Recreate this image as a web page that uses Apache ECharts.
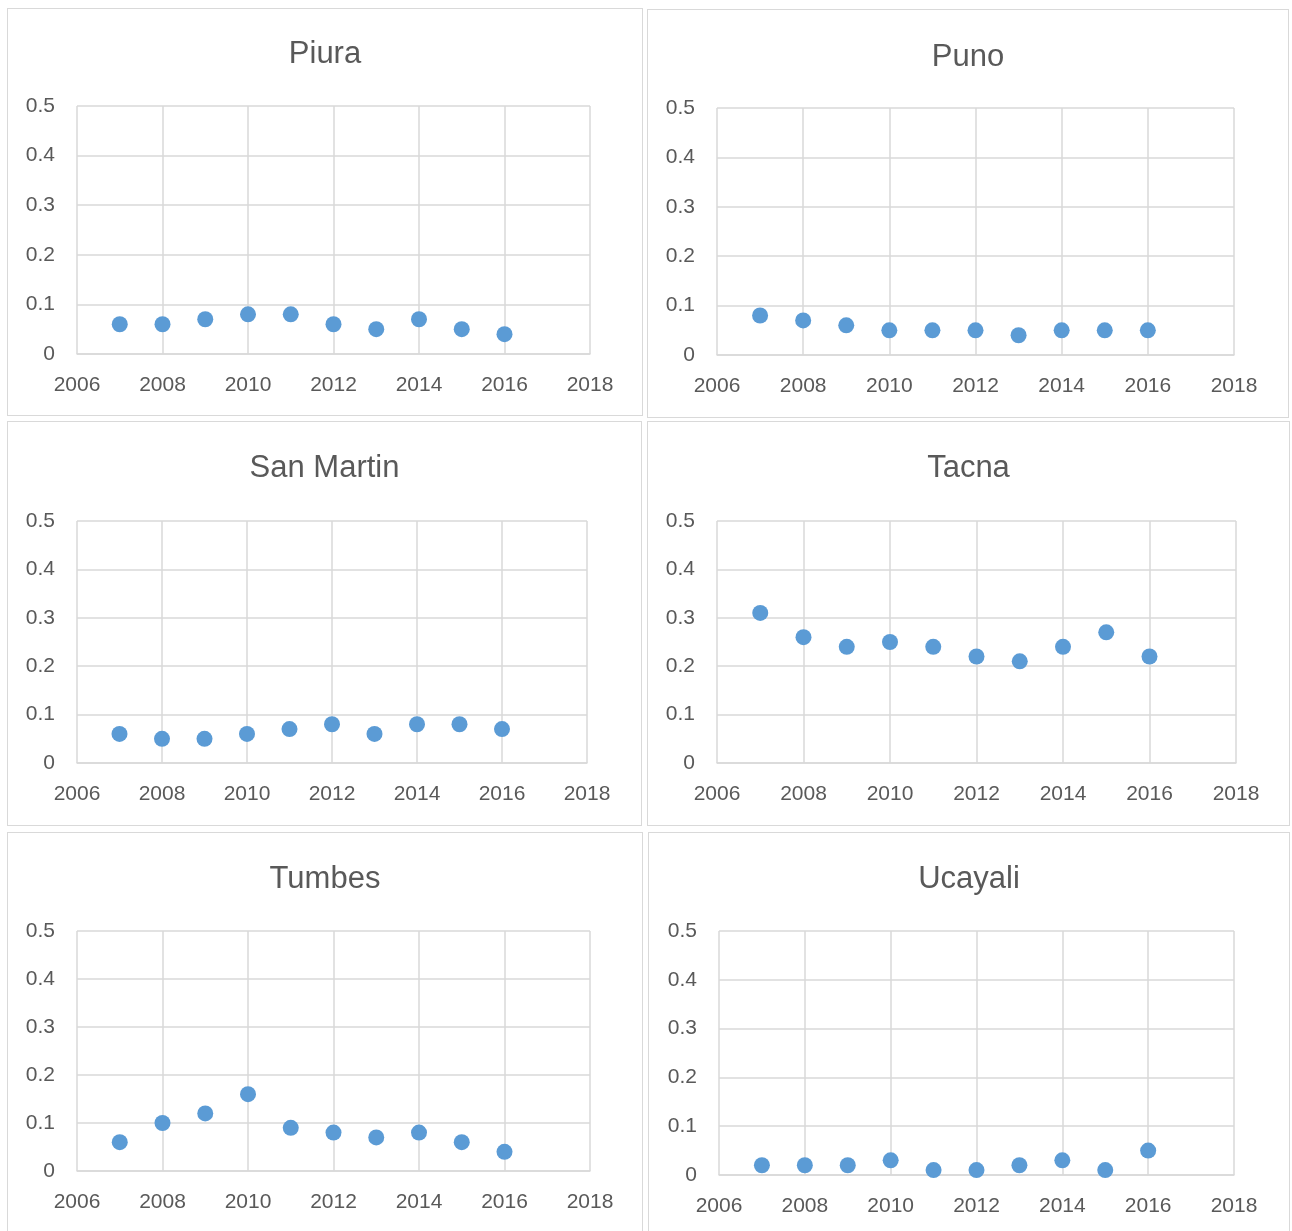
<!DOCTYPE html>
<html>
<head>
<meta charset="utf-8">
<script src="https://cdn.jsdelivr.net/npm/echarts@6/dist/echarts.min.js"></script>
<style>
  body { margin: 0; background: #fff; }
  .panel { position: absolute; box-sizing: border-box; border: 1px solid #d9d9d9; background: #fff; }
</style>
</head>
<body>
<div id="c0" class="panel" style="left:7px;top:8px;width:636px;height:408px"></div>
<div id="c1" class="panel" style="left:647px;top:9px;width:642px;height:409px"></div>
<div id="c2" class="panel" style="left:7px;top:421px;width:635px;height:405px"></div>
<div id="c3" class="panel" style="left:647px;top:421px;width:643px;height:405px"></div>
<div id="c4" class="panel" style="left:7px;top:832px;width:636px;height:406px"></div>
<div id="c5" class="panel" style="left:648px;top:832px;width:642px;height:406px"></div>
<script>
var years = [2007, 2008, 2009, 2010, 2011, 2012, 2013, 2014, 2015, 2016];
var regions = ['Piura', 'Puno', 'San Martin', 'Tacna', 'Tumbes', 'Ucayali'];
var piura = [0.06, 0.06, 0.07, 0.08, 0.08, 0.06, 0.05, 0.07, 0.05, 0.04];
var puno = [0.08, 0.07, 0.06, 0.05, 0.05, 0.05, 0.04, 0.05, 0.05, 0.05];
var sanMartin = [0.06, 0.05, 0.05, 0.06, 0.07, 0.08, 0.06, 0.08, 0.08, 0.07];
var tacna = [0.31, 0.26, 0.24, 0.25, 0.24, 0.22, 0.21, 0.24, 0.27, 0.22];
var tumbes = [0.06, 0.10, 0.12, 0.16, 0.09, 0.08, 0.07, 0.08, 0.06, 0.04];
var ucayali = [0.02, 0.02, 0.02, 0.03, 0.01, 0.01, 0.02, 0.03, 0.01, 0.05];
var allValues = [piura, puno, sanMartin, tacna, tumbes, ucayali];

// plot area of each panel, in px inside the panel: left, top, width, height, title top
var grids = [
  [69, 97, 513, 248, 30],
  [69, 98, 517, 247, 32],
  [69, 99, 510, 242, 31],
  [69, 99, 519, 242, 31],
  [69, 98, 513, 240, 31],
  [70, 98, 515, 244, 31]
];

var font = '"Liberation Sans", Arial, sans-serif';
var textColor = '#595959';
var lineColor = '#d9d9d9';

regions.forEach(function (name, i) {
  var chart = echarts.init(document.getElementById('c' + i));
  var g = grids[i];
  var pts = years.map(function (y, k) { return [y, allValues[i][k]]; });
  chart.setOption({
    animation: false,
    title: {
      text: name,
      left: 'center',
      top: g[4],
      padding: 0,
      textStyle: { fontFamily: font, fontSize: 31, fontWeight: 'normal', color: textColor }
    },
    grid: { left: g[0], top: g[1], width: g[2], height: g[3] },
    xAxis: {
      type: 'value',
      min: 2006,
      max: 2018,
      interval: 2,
      axisLine: { show: true, onZero: false, lineStyle: { color: lineColor, width: 1.5 } },
      axisTick: { show: false },
      splitLine: { show: true, lineStyle: { color: lineColor, width: 1.5 } },
      axisLabel: {
        margin: 21, fontFamily: font, fontSize: 21, color: textColor,
        formatter: function (v) { return String(v); }
      }
    },
    yAxis: {
      type: 'value',
      min: 0,
      max: 0.5,
      interval: 0.1,
      axisLine: { show: false },
      axisTick: { show: false },
      splitLine: { show: true, lineStyle: { color: lineColor, width: 1.5 } },
      axisLabel: { margin: 22, fontFamily: font, fontSize: 21, color: textColor }
    },
    series: [{
      type: 'scatter',
      symbol: 'circle',
      symbolSize: 16,
      itemStyle: { color: '#5b9bd5', opacity: 1 },
      data: pts
    }]
  });
});
</script>
</body>
</html>
